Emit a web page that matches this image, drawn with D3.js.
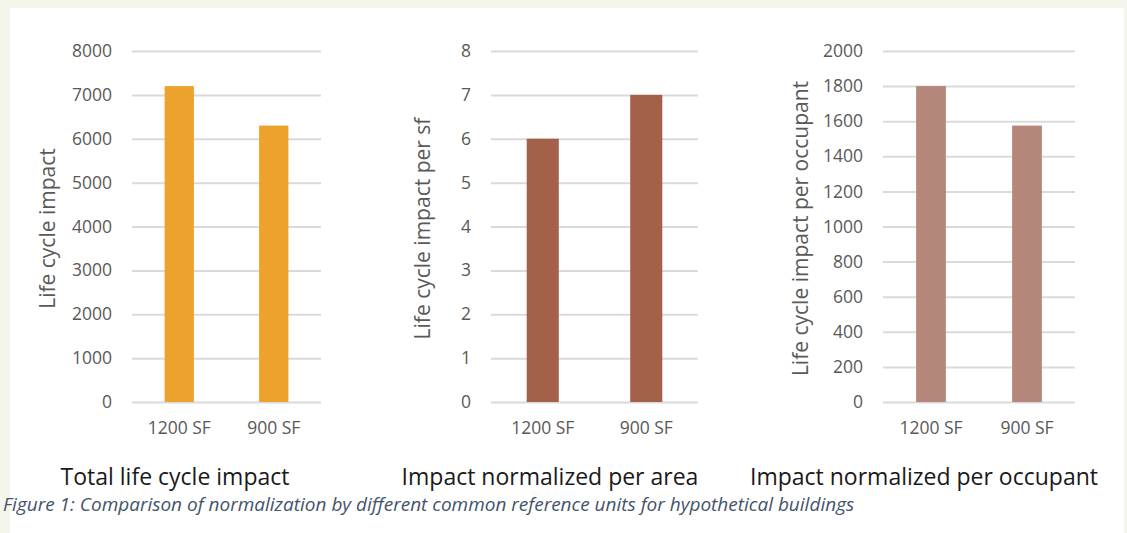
<!DOCTYPE html>
<html>
<head>
<meta charset="utf-8">
<script src="https://cdn.jsdelivr.net/npm/d3@7"></script>
<style>
  html, body { margin: 0; padding: 0; background: #f4f6ec; }
  svg { display: block; }
  text { font-family: "Open Sans", sans-serif; }
</style>
</head>
<body>
<svg id="chart" width="1127" height="533"></svg>
<script>
// ---- data ----
const categories = ["1200 SF", "900 SF"];
const totalImpact = [7200, 6300];
const perAreaImpact = [6, 7];
const perOccupantImpact = [1800, 1575];
const ticksTotal = [0, 1000, 2000, 3000, 4000, 5000, 6000, 7000, 8000];
const ticksArea = [0, 1, 2, 3, 4, 5, 6, 7, 8];
const ticksOccupant = [0, 200, 400, 600, 800, 1000, 1200, 1400, 1600, 1800, 2000];
const yTitles = ["Life cycle impact", "Life cycle impact per sf", "Life cycle impact per occupant"];
const chartTitles = ["Total life cycle impact", "Impact normalized per area", "Impact normalized per occupant"];
const caption = "Figure 1: Comparison of normalization by different common reference units for hypothetical buildings";

// ---- layout ----
const svg = d3.select("#chart");
svg.append("rect").attr("x", 10).attr("y", 8).attr("width", 1114).attr("height", 525).attr("fill", "#ffffff");

const panels = [
  { values: totalImpact, ticks: ticksTotal, x0: 132, x1: 321, color: "#eea22e", yTitleX: 47, titleX: 175 },
  { values: perAreaImpact, ticks: ticksArea, x0: 491, x1: 698, color: "#a3614a", yTitleX: 422, titleX: 550 },
  { values: perOccupantImpact, ticks: ticksOccupant, x0: 883, x1: 1075, color: "#b4877a", yTitleX: 800, titleX: 924 }
];
const yTop = 51, yBottom = 402;

panels.forEach((p, i) => {
  const g = svg.append("g");
  const x = d3.scaleBand().domain(categories).range([p.x0, p.x1]).paddingInner(0.69).paddingOuter(0.345);
  const y = d3.scaleLinear().domain([p.ticks[0], p.ticks[p.ticks.length - 1]]).range([yBottom, yTop]);

  // gridlines
  const grid = d3.axisLeft(y).tickValues(p.ticks).tickSize(-(p.x1 - p.x0)).tickFormat("");
  const gg = g.append("g").attr("transform", `translate(${p.x0},0)`).call(grid);
  gg.select(".domain").remove();
  gg.selectAll("line").attr("stroke", "#dadada").attr("stroke-width", 2);

  // tick labels
  const ax = d3.axisLeft(y).tickValues(p.ticks).tickSize(0).tickPadding(20).tickFormat(d3.format("d"));
  const ag = g.append("g").attr("transform", `translate(${p.x0},0)`).call(ax);
  ag.select(".domain").remove();
  ag.selectAll("text").attr("fill", "#595959").style("font-size", "17.5px").style("font-family", "Open Sans");

  // bars
  g.selectAll("rect.bar").data(p.values).join("rect")
    .attr("class", "bar")
    .attr("x", (d, j) => x(categories[j]))
    .attr("width", x.bandwidth())
    .attr("y", d => y(d))
    .attr("height", d => y(0) - y(d))
    .attr("fill", p.color);

  // category labels
  const bx = d3.axisBottom(x).tickSize(0).tickPadding(20);
  const bg = g.append("g").attr("transform", `translate(0,${yBottom})`).call(bx);
  bg.select(".domain").remove();
  bg.selectAll("text").attr("fill", "#595959").style("font-size", "17.5px").style("font-family", "Open Sans");

  // y title
  g.append("text")
    .attr("transform", `translate(${p.yTitleX},${(yTop + yBottom) / 2 + 2}) rotate(-90)`)
    .attr("text-anchor", "middle").attr("dominant-baseline", "central")
    .attr("fill", "#595959").style("font-size", "21px")
    .text(yTitles[i]);

  // chart title
  g.append("text")
    .attr("x", p.titleX).attr("y", 485)
    .attr("text-anchor", "middle")
    .attr("fill", "#1a1a1a").style("font-size", "23px")
    .text(chartTitles[i]);
});

svg.append("text")
  .attr("x", 3).attr("y", 511)
  .attr("text-anchor", "start")
  .attr("fill", "#44546a").style("font-size", "19px").style("font-style", "italic")
  .text(caption);
</script>
</body>
</html>
